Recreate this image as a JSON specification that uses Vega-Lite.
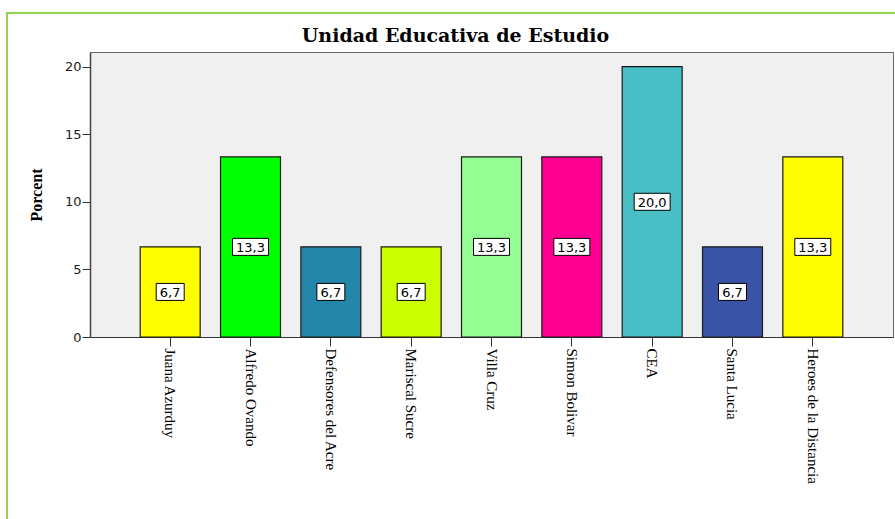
{
  "$schema": "https://vega.github.io/schema/vega-lite/v6.json",
  "width": 803,
  "height": 285,
  "autosize": {"type": "none"},
  "padding": {"left": 90, "top": 52, "right": 2, "bottom": 182},
  "background": "white",
  "config": {
    "locale": {"number": {"decimal": ",", "thousands": ".", "grouping": [3], "currency": ["", " €"]}},
    "view": {"fill": "#F0F0F0", "stroke": "#666666", "strokeWidth": 1}
  },
  "title": {
    "text": "Unidad Educativa de Estudio",
    "font": "DejaVu Serif",
    "fontSize": 19,
    "fontWeight": "bold",
    "color": "black",
    "anchor": "middle",
    "frame": "group",
    "baseline": "alphabetic",
    "dx": -36,
    "offset": -49
  },
  "data": {
    "values": [
      {"school": "Juana Azurduy", "value": 6.67},
      {"school": "Alfredo Ovando", "value": 13.33},
      {"school": "Defensores del Acre", "value": 6.67},
      {"school": "Mariscal Sucre", "value": 6.67},
      {"school": "Villa Cruz", "value": 13.33},
      {"school": "Simon Bolivar", "value": 13.33},
      {"school": "CEA", "value": 20.0},
      {"school": "Santa Lucia", "value": 6.67},
      {"school": "Heroes de la Distancia", "value": 13.33}
    ]
  },
  "layer": [
    {
      "data": {"values": [{"frame": "outer"}]},
      "mark": {"type": "rect", "fillOpacity": 0, "stroke": "#92D050", "strokeWidth": 2, "clip": false},
      "encoding": {
        "x": {"datum": -0.1034, "type": "quantitative", "scale": {"domain": [0, 1], "nice": false, "zero": false}, "axis": null},
        "x2": {"datum": 1.5},
        "y": {"datum": 1.1368, "type": "quantitative", "scale": {"domain": [0, 1], "nice": false, "zero": false}, "axis": null},
        "y2": {"datum": -1}
      }
    },
    {
      "layer": [
        {
          "mark": {"type": "bar", "stroke": "#1A1A1A", "strokeWidth": 1.2},
          "encoding": {
            "x": {
              "field": "school", "type": "nominal", "sort": null,
              "scale": {"paddingInner": 0.2535, "paddingOuter": 0.625},
              "axis": {
                "title": null,
                "labelAngle": 90,
                "labelAlign": "left",
                "labelBaseline": "middle",
                "labelFont": "Liberation Serif",
                "labelFontSize": 15,
                "labelColor": "black",
                "labelPadding": 2,
                "tickSize": 9,
                "tickColor": "#333333",
                "domainColor": "#333333",
                "labelLimit": 300
              }
            },
            "y": {
              "field": "value", "type": "quantitative",
              "scale": {"domain": [0, 21.08], "nice": false, "zero": true},
              "axis": {
                "title": "Porcent",
                "titleFont": "Liberation Serif",
                "titleFontSize": 16,
                "titleFontWeight": "bold",
                "titleColor": "black",
                "titlePadding": 20,
                "values": [0, 5, 10, 15, 20],
                "grid": false,
                "labelFont": "DejaVu Sans",
                "labelFontSize": 13,
                "labelColor": "#222222",
                "labelPadding": 1,
                "tickSize": 8,
                "tickColor": "#333333",
                "domainColor": "#444444",
                "domainWidth": 1.5
              }
            },
            "color": {
              "field": "school", "type": "nominal", "sort": null, "legend": null,
              "scale": {
                "domain": ["Juana Azurduy", "Alfredo Ovando", "Defensores del Acre", "Mariscal Sucre", "Villa Cruz", "Simon Bolivar", "CEA", "Santa Lucia", "Heroes de la Distancia"],
                "range": ["#FFFF00", "#00FF00", "#2486A8", "#CCFF00", "#95FF93", "#FF0092", "#47BFC5", "#3A53A5", "#FFFF00"]
              }
            }
          }
        },
        {
          "transform": [{"filter": "datum.value < 10"}],
          "mark": {"type": "point", "shape": "M-1,-0.607L1,-0.607L1,0.607L-1,0.607Z", "size": 784, "filled": true, "fill": "white", "stroke": "black", "strokeWidth": 1, "opacity": 1},
          "encoding": {
            "x": {"field": "school", "type": "nominal", "sort": null},
            "y": {"field": "value", "type": "quantitative", "scale": {"domain": [0, 42.16], "nice": false, "zero": true}, "axis": null}
          }
        },
        {
          "transform": [{"filter": "datum.value >= 10"}],
          "mark": {"type": "point", "shape": "M-1,-0.4722L1,-0.4722L1,0.4722L-1,0.4722Z", "size": 1296, "filled": true, "fill": "white", "stroke": "black", "strokeWidth": 1, "opacity": 1},
          "encoding": {
            "x": {"field": "school", "type": "nominal", "sort": null},
            "y": {"field": "value", "type": "quantitative", "scale": {"domain": [0, 42.16], "nice": false, "zero": true}, "axis": null}
          }
        },
        {
          "mark": {"type": "text", "font": "DejaVu Sans", "fontSize": 13, "color": "black", "baseline": "middle", "align": "center", "dy": 1},
          "encoding": {
            "x": {"field": "school", "type": "nominal", "sort": null},
            "y": {"field": "value", "type": "quantitative", "scale": {"domain": [0, 42.16], "nice": false, "zero": true}, "axis": null},
            "text": {"field": "value", "type": "quantitative", "format": ".1f"}
          }
        }
      ],
      "resolve": {"scale": {"y": "independent"}}
    }
  ],
  "resolve": {"scale": {"x": "independent", "y": "independent"}}
}
